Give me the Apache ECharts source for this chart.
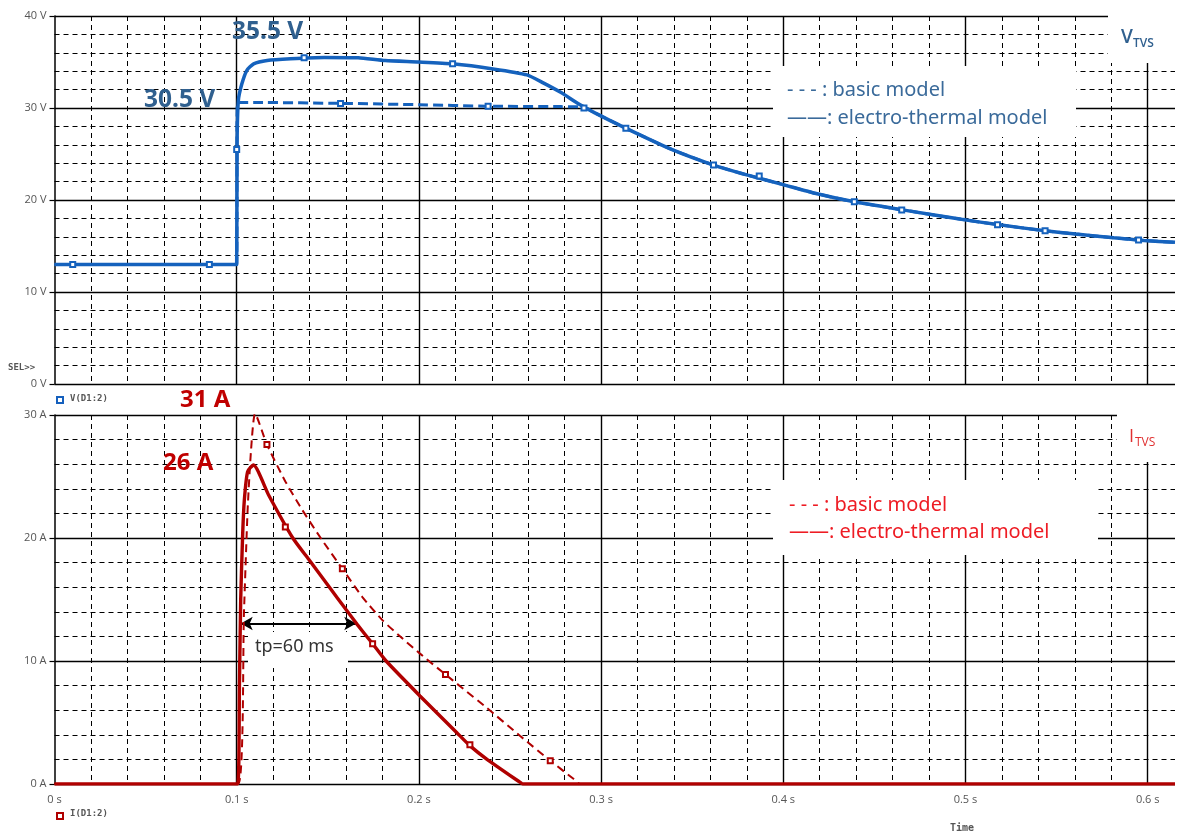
<!DOCTYPE html>
<html>
<head>
<meta charset="utf-8">
<script src="https://cdn.jsdelivr.net/npm/echarts@6/dist/echarts.min.js"></script>
<style>
html,body{margin:0;padding:0;background:#fff;}
#c{width:1179px;height:836px;}
</style>
</head>
<body>
<div id="c"></div>
<script>
// ---------- DATA ----------
// Voltage V_TVS (V) vs time (s)
const vThermalTime = [0, 0.1, 0.1002, 0.1009, 0.1028, 0.1056, 0.1093, 0.1167, 0.1296, 0.148, 0.1667, 0.1815, 0.2, 0.2185, 0.2407, 0.2593, 0.2685, 0.2778, 0.288];
const vThermal     = [13, 13, 26, 30.8, 32.6, 34.1, 34.8, 35.16, 35.35, 35.5, 35.45, 35.15, 35.0, 34.8, 34.25, 33.6, 32.7, 31.7, 30.4];
const vBasicTime   = [0, 0.1, 0.1003, 0.111, 0.159, 0.2, 0.237, 0.278, 0.29];
const vBasic       = [13, 13, 30.6, 30.6, 30.5, 30.36, 30.2, 30.15, 30.1];
// common decay tail of both models
const vTailTime = [0.2963, 0.3126, 0.3387, 0.3617, 0.3805, 0.3994, 0.418, 0.439, 0.4663, 0.4977, 0.5186, 0.5437, 0.5605, 0.5814, 0.598, 0.615];
const vTail     = [29.5, 27.9, 25.5, 23.8, 22.7, 21.7, 20.7, 19.8, 18.9, 17.9, 17.3, 16.65, 16.3, 15.9, 15.6, 15.4];

// Current I_TVS (A) vs time (s)
const iThermalTime = [0, 0.1005, 0.1015, 0.1022, 0.1033, 0.1042, 0.106, 0.1092, 0.1175, 0.1308, 0.1396, 0.1506, 0.1599, 0.166, 0.1746, 0.182, 0.2006, 0.2207, 0.2281, 0.2372, 0.2556, 0.257, 0.258, 0.615];
const iThermal     = [0, 0, 8, 15, 20.4, 23.1, 25.4, 25.93, 23.5, 20.0, 18.25, 16.06, 14.2, 13.0, 11.4, 10.0, 7.16, 4.19, 3.1, 2.03, 0.13, 0, 0, 0];
const iBasicTime   = [0, 0.1008, 0.104, 0.106, 0.1079, 0.1101, 0.1166, 0.1267, 0.1359, 0.147, 0.158, 0.169, 0.1801, 0.1912, 0.2006, 0.2146, 0.2226, 0.2372, 0.2556, 0.2721, 0.285, 0.2885, 0.2895, 0.615];
const iBasic       = [0, 0, 14, 22.3, 27.2, 30.1, 27.6, 24.6, 22.3, 19.8, 17.5, 15.2, 13.3, 11.8, 10.6, 8.9, 7.95, 6.2, 3.9, 1.9, 0.4, 0, 0, 0];

// probe markers
const vThermalMarkTime = [0.01, 0.085, 0.1, 0.137, 0.2185, 0.3136, 0.3617, 0.3868, 0.439, 0.465, 0.5176, 0.5437, 0.595];
const vThermalMark     = [13, 13, 25.5, 35.45, 34.8, 27.8, 23.8, 22.6, 19.8, 18.9, 17.3, 16.65, 15.65];
const vBasicMarkTime   = [0.157, 0.238, 0.2906];
const vBasicMark       = [30.5, 30.2, 30.0];
const iThermalMarkTime = [0.1267, 0.1746, 0.228];
const iThermalMark     = [20.9, 11.4, 3.2];
const iBasicMarkTime   = [0.1166, 0.158, 0.2146, 0.2721];
const iBasicMark       = [27.6, 17.5, 8.9, 1.9];

// tick labels
const xTickValues = [0, 0.1, 0.2, 0.3, 0.4, 0.5, 0.6];
const xTickLabels = ['0 s', '0.1 s', '0.2 s', '0.3 s', '0.4 s', '0.5 s', '0.6 s'];
const vTickLabels = ['0 V', '10 V', '20 V', '30 V', '40 V'];
const iTickLabels = ['0 A', '10 A', '20 A', '30 A'];

// tp annotation (time start, time end, current level)
const tpStart = 0.1022, tpEnd = 0.1656, tpLevel = 13.05;

// ---------- BUILD ----------
function zip(t, v){ return t.map((x,i)=>[x, v[i]]); }
const vThermalData = zip(vThermalTime, vThermal).concat(zip(vTailTime, vTail));
const vBasicData   = zip(vBasicTime, vBasic).concat(zip(vTailTime, vTail));
const iThermalData = zip(iThermalTime, iThermal);
const iBasicData   = zip(iBasicTime, iBasic);

const XMAX = 0.615;
const solid = {color:'#000', width:1.4, type:'solid'};
const dashed = {color:'#000', width:1, type:[5,4]};
const axisFont = {fontFamily:'Open Sans', fontSize:11, color:'#555'};

function xLabel(v){
  const i = xTickValues.findIndex(t=>Math.abs(t-v)<1e-9);
  return i>=0 ? xTickLabels[i] : '';
}

const chart = echarts.init(document.getElementById('c'), null, {renderer:'canvas'});

const grids = [
  {left:54.5, top:16, width:1120.5, height:368},
  {left:54.5, top:415, width:1120.5, height:369}
];

function mainX(gi, labels){
  return {type:'value', gridIndex:gi, min:0, max:XMAX, interval:0.1, z:2,
    axisLine:{show:false}, axisTick:{show:false},
    axisLabel: labels ? Object.assign({show:true, margin:10, showMaxLabel:false, formatter:xLabel}, axisFont) : {show:false},
    splitLine:{show:true, showMaxLine:false, showMinLine:false, lineStyle:solid}};
}
function minorX(gi){
  return {type:'value', gridIndex:gi, min:0, max:XMAX, interval:0.02, z:1,
    axisLine:{show:false}, axisTick:{show:false}, axisLabel:{show:false},
    splitLine:{show:true, showMaxLine:false, showMinLine:false, lineStyle:dashed}};
}
function yAx(gi, max, labels){
  return {type:'value', gridIndex:gi, min:0, max:max, interval:10, z:2,
    axisLine:{show:true, lineStyle:{color:'#000', width:1.5}},
    axisTick:{show:true, length:5, lineStyle:{color:'#000', width:1.2}},
    axisLabel:Object.assign({margin:8, formatter:(v)=>labels[Math.round(v/10)]}, axisFont),
    splitLine:{show:true, lineStyle:solid},
    minorTick:{show:false, splitNumber:5},
    minorSplitLine:{show:true, lineStyle:dashed}};
}

const blue = '#1562BD', red = '#B00000';
const txtBlue = '#30608F', txtRed = '#C00000';

function text(x, y, str, size, weight, fill, family){
  return {type:'text', x:x, y:y, z:20, style:{text:str, fontSize:size, fontWeight:weight, fontFamily:family||'Noto Sans', fill:fill, verticalAlign:'middle', align:'left'}};
}
function rect(x, y, w, h){
  return {type:'rect', z:10, shape:{x:x, y:y, width:w, height:h}, style:{fill:'#fff'}};
}
function markers(xi, yi, t, v, color){
  return {type:'scatter', xAxisIndex:xi, yAxisIndex:yi, data:zip(t, v), symbol:'emptyRect', symbolSize:5, z:7,
    itemStyle:{color:color, borderColor:color, borderWidth:1.6, opacity:1}, silent:true};
}

const option = {
  animation:false,
  backgroundColor:'#fff',
  grid:grids,
  xAxis:[mainX(0,false), minorX(0), mainX(1,true), minorX(1)],
  yAxis:[yAx(0,40,vTickLabels), yAx(1,30,iTickLabels)],
  series:[
    {type:'line', name:'V basic', xAxisIndex:0, yAxisIndex:0, data:vBasicData, showSymbol:false, z:5, smooth:0.2,
      lineStyle:{color:blue, width:3, type:[10,5]}},
    {type:'line', name:'V thermal', xAxisIndex:0, yAxisIndex:0, data:vThermalData, showSymbol:false, z:6, smooth:0.2,
      lineStyle:{color:blue, width:3.5}},
    {type:'line', name:'I basic', xAxisIndex:2, yAxisIndex:1, data:iBasicData, showSymbol:false, z:5, smooth:0.2,
      lineStyle:{color:red, width:2, type:[8,5]}},
    {type:'line', name:'I thermal', xAxisIndex:2, yAxisIndex:1, data:iThermalData, showSymbol:false, z:6, smooth:0.2,
      lineStyle:{color:red, width:3.4},
      markLine:{silent:true, symbol:['arrow','arrow'], symbolSize:[10,12], label:{show:false},
        lineStyle:{color:'#000', width:2, type:'solid'},
        data:[[{coord:[tpStart,tpLevel]},{coord:[tpEnd,tpLevel]}]]}},
    markers(0, 0, vThermalMarkTime, vThermalMark, blue),
    markers(0, 0, vBasicMarkTime, vBasicMark, blue),
    markers(2, 1, iThermalMarkTime, iThermalMark, red),
    markers(2, 1, iBasicMarkTime, iBasicMark, red)
  ],
  graphic:[
    // white boxes
    rect(773, 66, 303, 71),
    rect(773, 480, 325, 75),
    rect(1108, 0, 71, 63),
    rect(1117, 400, 62, 62),
    rect(248, 632, 100, 36),
    // top legend
    text(787, 90, '- - - : basic model', 20, 'normal', '#3A6A9A'),
    text(787, 118, '——: electro-thermal model', 20, 'normal', '#3A6A9A'),
    // bottom legend
    text(789, 505, '- - - : basic model', 20, 'normal', '#EE1C24'),
    text(789, 532, '——: electro-thermal model', 20, 'normal', '#EE1C24'),
    // panel labels
    text(1121, 38, 'V', 19, 600, '#30608F', 'Open Sans'),
    text(1133, 44, 'TVS', 12, 600, '#30608F', 'Open Sans'),
    text(1129, 437, 'I', 18, 'normal', '#E03030', 'Open Sans'),
    text(1135, 443, 'TVS', 12, 'normal', '#E03030', 'Open Sans'),
    // value annotations
    text(232, 32, '35.5 V', 24.5, 'bold', txtBlue),
    text(144, 100, '30.5 V', 24.5, 'bold', txtBlue),
    text(180, 400, '31 A', 24, 'bold', txtRed),
    text(163, 463, '26 A', 24, 'bold', txtRed),
    // tp text
    text(255, 647, 'tp=60 ms', 18, 'normal', '#333'),
    // PSpice style labels
    text(8, 368, 'SEL>>', 9, 'bold', '#555', 'DejaVu Sans Mono'),
    {type:'rect', z:20, shape:{x:57, y:397, width:6, height:6}, style:{fill:'#fff', stroke:'#1560BD', lineWidth:2}},
    text(70, 399, 'V(D1:2)', 9, 'bold', '#555', 'DejaVu Sans Mono'),
    {type:'rect', z:20, shape:{x:57, y:813, width:6, height:6}, style:{fill:'#fff', stroke:'#B00000', lineWidth:2}},
    text(70, 814, 'I(D1:2)', 9, 'bold', '#555', 'DejaVu Sans Mono'),
    text(950, 828, 'Time', 10, 'bold', '#555', 'DejaVu Sans Mono')
  ]
};
chart.setOption(option);
</script>
</body>
</html>
